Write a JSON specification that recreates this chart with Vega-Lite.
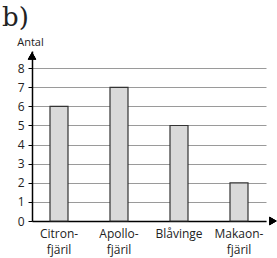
{
  "$schema": "https://vega.github.io/schema/vega-lite/v6.json",
  "width": 234,
  "height": 170,
  "autosize": "none",
  "padding": {"left": 32, "top": 51, "right": 11, "bottom": 37},
  "background": "white",
  "title": {"text": "b)", "font": "DejaVu Serif", "fontSize": 26, "fontWeight": "normal", "anchor": "start", "frame": "group", "dx": -30, "offset": 5, "color": "#222"},
  "config": {"view": {"stroke": null}, "font": "Open Sans",
    "axisY": {"title": "Antal", "titleAngle": 0, "titleAlign": "center", "titleX": -2, "titleY": -6, "titleBaseline": "alphabetic",
      "titleFont": "Open Sans", "titleFontSize": 11, "titleFontWeight": "normal", "titleColor": "#222",
      "values": [0, 1, 2, 3, 4, 5, 6, 7, 8], "labelOverlap": false, "grid": true, "gridColor": "#9a9a9a", "gridWidth": 1,
      "domainColor": "#000", "domainWidth": 1.5, "tickColor": "#000", "tickSize": 4,
      "labelFont": "Open Sans", "labelFontSize": 12, "labelColor": "#222", "labelPadding": 4}},
  "data": {"values": [
    {"art": "Citron- fjäril", "antal": 6},
    {"art": "Apollo- fjäril", "antal": 7},
    {"art": "Blåvinge", "antal": 5},
    {"art": "Makaon- fjäril", "antal": 2}
  ]},
  "layer": [
    {
      "mark": {"type": "bar", "fill": "#d9d9d9", "stroke": "#333", "strokeWidth": 1.2},
      "encoding": {
        "x": {"field": "art", "type": "nominal", "sort": null,
          "scale": {"paddingInner": 0.7, "paddingOuter": 0.3},
          "axis": {"title": null, "labelAngle": 0, "ticks": false, "domainColor": "#000", "domainWidth": 1.5,
            "labelExpr": "split(datum.label, ' ')", "labelFont": "Open Sans", "labelFontSize": 12, "labelColor": "#222",
            "labelPadding": 7, "labelLineHeight": 16, "labelBaseline": "top"}},
        "y": {"field": "antal", "type": "quantitative",
          "scale": {"domain": [0, 8.9], "nice": false},
          "axis": {"title": "Antal", "values": [0, 1, 2, 3, 4, 5, 6, 7, 8]}}
      }
    },
    {
      "mark": {"type": "point", "shape": "triangle-up", "filled": true, "color": "#000", "size": 70, "opacity": 1},
      "encoding": {
        "x": {"datum": 0, "type": "quantitative", "scale": {"domain": [0, 1]}, "axis": null},
        "y": {"datum": 8.65, "type": "quantitative", "axis": {"title": "Antal", "values": [0, 1, 2, 3, 4, 5, 6, 7, 8]}}
      }
    },
    {
      "mark": {"type": "point", "shape": "triangle-right", "filled": true, "color": "#000", "size": 70, "opacity": 1},
      "encoding": {
        "x": {"datum": 1.03, "type": "quantitative", "scale": {"domain": [0, 1]}, "axis": null},
        "y": {"datum": 0, "type": "quantitative", "axis": {"title": "Antal", "values": [0, 1, 2, 3, 4, 5, 6, 7, 8]}}
      }
    }
  ],
  "resolve": {"scale": {"x": "independent"}}
}
